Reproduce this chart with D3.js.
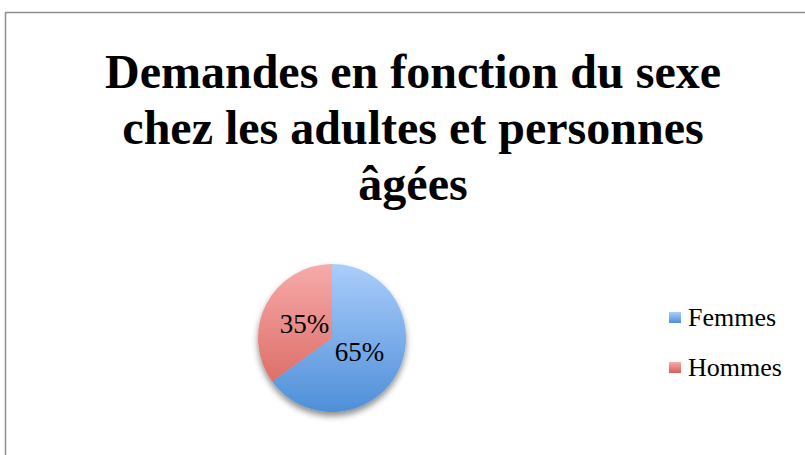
<!DOCTYPE html>
<html>
<head>
<meta charset="utf-8">
<script src="https://cdn.jsdelivr.net/npm/d3@7"></script>
<style>
  body { margin: 0; background: #fff; }
  svg { display: block; }
</style>
</head>
<body>
<svg id="chart"></svg>
<script>
// Data
const titleLines = ["Demandes en fonction du sexe", "chez les adultes et personnes", "âgées"];
const categories = ["Femmes", "Hommes"];
const values = [65, 35];
const labels = ["65%", "35%"];

let width = 805, height = 455;
const serif = "'Liberation Serif', 'Times New Roman', Times, serif";

let svg = d3.select('#chart')
    .attr('width', width)
    .attr('height', height);

let cx = 332, cy = 338, radius = 74;

// gradients + shadow
const defs = svg.append('defs');
const colors = {
    Femmes: ['#abcdfb', '#4e8fd8'],
    Hommes: ['#f6abaa', '#d75f57']
};

categories.forEach(function(c) {
    // pie slices are drawn around (0,0), so the gradient runs from -r to +r
    let g = defs.append('linearGradient')
        .attr('id', 'grad-' + c)
        .attr('gradientUnits', 'userSpaceOnUse')
        .attr('x1', 0).attr('x2', 0)
        .attr('y1', -radius).attr('y2', radius);
    g.append('stop').attr('offset', '0%').attr('stop-color', colors[c][0]);
    g.append('stop').attr('offset', '100%').attr('stop-color', colors[c][1]);

    let k = defs.append('linearGradient')
        .attr('id', 'key-' + c)
        .attr('x1', 0).attr('x2', 0).attr('y1', 0).attr('y2', 1);
    k.append('stop').attr('offset', '0%').attr('stop-color', colors[c][0]);
    k.append('stop').attr('offset', '100%').attr('stop-color', colors[c][1]);
});

defs.append('filter')
    .attr('id', 'shadow')
    .attr('x', '-20%').attr('y', '-20%')
    .attr('width', '140%').attr('height', '150%')
    .append('feDropShadow')
    .attr('dx', 0).attr('dy', 4)
    .attr('stdDeviation', 3)
    .attr('flood-color', '#000')
    .attr('flood-opacity', 0.45);

// chart border (runs past the right and bottom edges)
svg.append('rect')
    .attr('x', 5.5)
    .attr('y', 12.5)
    .attr('width', 900)
    .attr('height', 600)
    .attr('fill', 'none')
    .attr('stroke', '#8e8e8e')
    .attr('stroke-width', 1.5);

// title
svg.append('text')
    .attr('text-anchor', 'middle')
    .attr('font-family', serif)
    .attr('font-weight', 'bold')
    .attr('font-size', 48)
    .attr('fill', '#000')
    .selectAll('tspan')
    .data(titleLines)
    .enter().append('tspan')
    .attr('x', 413)
    .attr('y', (d, i) => 88 + i * 56)
    .text(d => d);

// pie
const pie = d3.pie().sort(null).value(d => d.value);
const arcs = pie(categories.map((c, i) => ({ name: c, value: values[i], label: labels[i] })));

const arc = d3.arc().innerRadius(0).outerRadius(radius);
const labelArc = d3.arc().innerRadius(31).outerRadius(31);

let pieG = svg.append('g')
    .attr('transform', `translate(${cx}, ${cy})`);

pieG.append('g')
    .attr('filter', 'url(#shadow)')
    .selectAll('path')
    .data(arcs)
    .enter().append('path')
    .attr('d', arc)
    .attr('fill', d => `url(#grad-${d.data.name})`);

pieG.selectAll('.label')
    .data(arcs)
    .enter().append('text')
    .attr('class', 'label')
    .attr('x', d => labelArc.centroid(d)[0])
    .attr('y', d => labelArc.centroid(d)[1])
    .attr('dy', '0.33em')
    .attr('text-anchor', 'middle')
    .attr('font-family', serif)
    .attr('font-size', 27)
    .attr('fill', '#000')
    .text(d => d.data.label);

// legend
const legend = svg.selectAll('.legend')
    .data(categories)
    .enter().append('g')
    .attr('class', 'legend')
    .attr('transform', (d, i) => `translate(669, ${312 + i * 50})`);

legend.append('rect')
    .attr('x', 0).attr('y', 0)
    .attr('width', 12).attr('height', 11)
    .attr('fill', d => `url(#key-${d})`);

legend.append('text')
    .attr('x', 19)
    .attr('y', 14)
    .attr('font-family', serif)
    .attr('font-size', 26)
    .attr('fill', '#000')
    .text(d => d);
</script>
</body>
</html>
